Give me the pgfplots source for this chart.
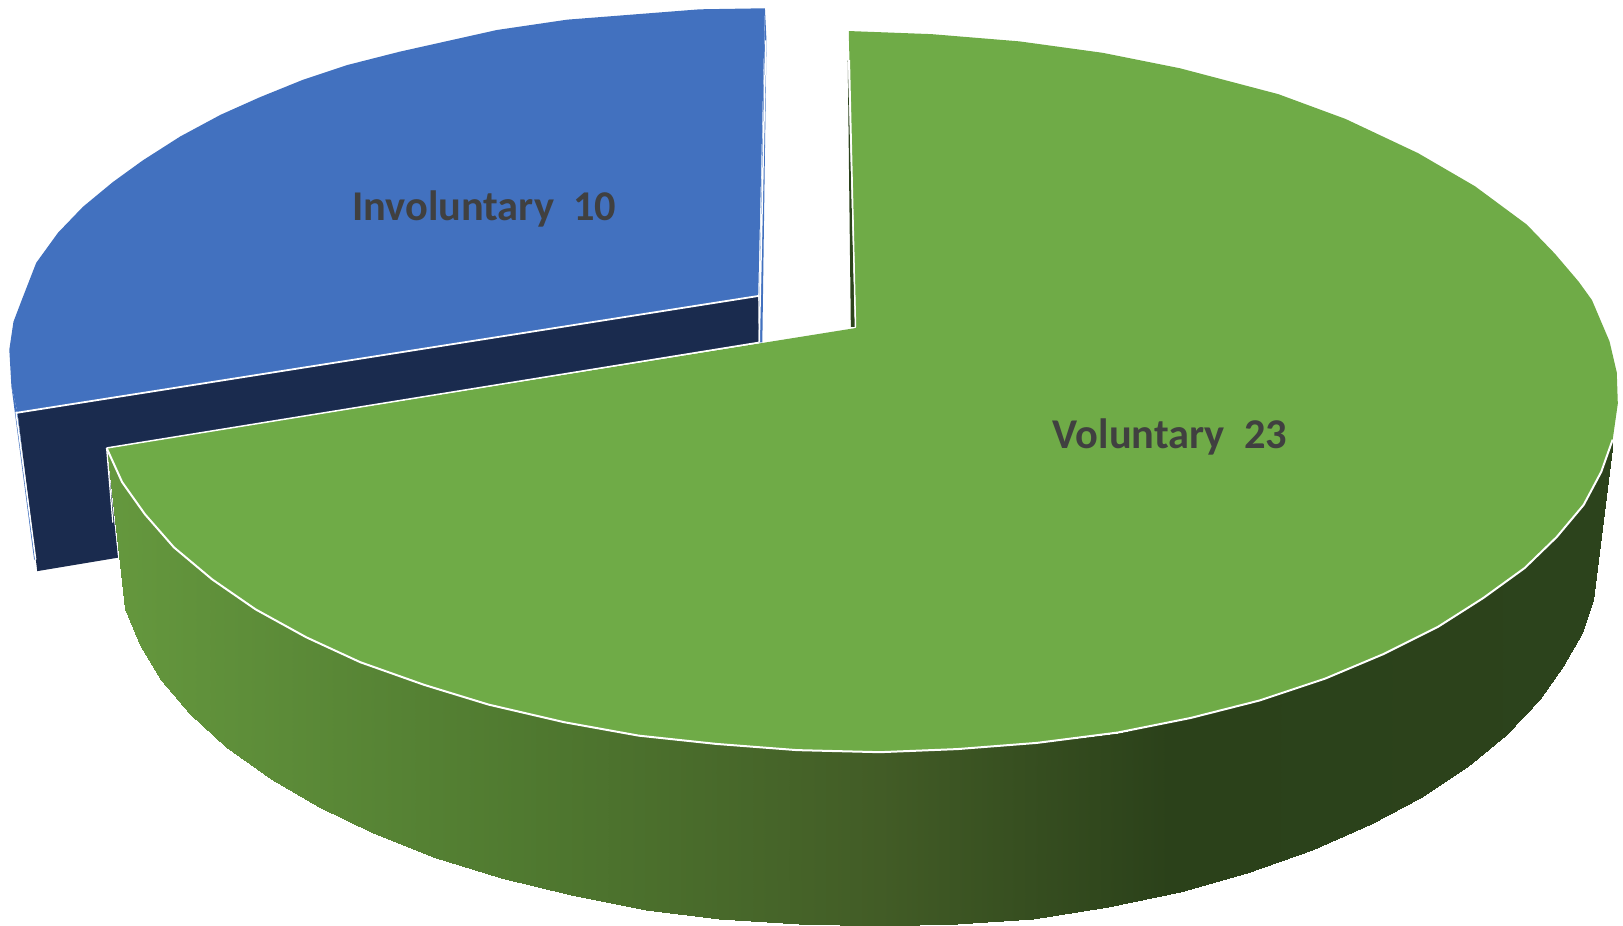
\documentclass[border=0pt]{standalone}
\usepackage{fontspec}
\setmainfont{Carlito}
\usepackage{pgfplots}
\pgfplotsset{compat=1.18}
\definecolor{gtop}{RGB}{111,171,71}
\definecolor{btop}{RGB}{66,113,191}
\definecolor{navy}{RGB}{26,43,78}
\definecolor{gdark}{RGB}{44,67,28}
\definecolor{lab}{RGB}{64,64,64}
\begin{document}
\begin{tikzpicture}
\useasboundingbox (0,0) rectangle (1623pt,926pt);
\begin{axis}[
  at={(0,0)},anchor=south west,
  width=1623pt,height=926pt,scale only axis,hide axis,
  xmin=0,xmax=1568,ymin=0,ymax=895,y dir=reverse,
  colormap={side}{rgb255(104pt)=(101,152,62); rgb255(500pt)=(80,122,48); rgb255(850pt)=(66,92,38); rgb255(1130pt)=(43,65,26); rgb255(1558pt)=(44,67,28)},
  point meta min=104,point meta max=1558,
]
% blue slice: side slivers
\addplot[fill=btop,draw=none] coordinates {(11,373)(17,399)(34,541)(33,541)} --cycle;
\addplot[fill=btop,draw=none] coordinates {(739,8)(740.5,39)(736.5,331)(733,331)} --cycle;
% navy inner face
\addplot[fill=navy,draw=none] coordinates {(17,399)(732.5,286)(733,331)(103,433)(114,539)(36,552)} --cycle;
% blue top
\addplot[fill=btop,draw=none] coordinates {
(739,8)(676,9)(612,14)(548,19)(480,29)(386,50)(335,63)(293,77)(251,94)(213,111)(174,132)(138,155)(109,176)(80,200)(56,225)(35,254)(21,290)(13,311)(9,338)(11,373)(17,399)(732.5,286)} --cycle;
\addplot[white,line width=1.8pt] coordinates {(16,399)(733,286)};
\addplot[white,line width=1.5pt] coordinates {(739.8,39)(733.5,331)};
\addplot[white,line width=1.5pt] coordinates {(15.5,398)(34.5,541)};
% green side wall
\addplot[surf,shader=interp,mesh/rows=2,point meta=x] table {
x y
103 433
118 466
140 497
168 529
205 560
247 589
296 616
348 640
410 662
472 681
545 698
617 711
692 719
770 725
850 727
925 724
1002 718
1080 708
1150 694
1217 677
1280 656
1337 632
1389 606
1433 578
1473 549
1504 519
1530 488
1547 456
1558 425
121 589
135 623
156 657
184 690
218 722
262 753
308 780
360 805
418 828
484 849
552 865
624 880
695 888
772 893
850 895
925 893
998 888
1070 877
1140 862
1205 844
1268 822
1325 796
1372 771
1417 741
1455 710
1488 676
1510 644
1528 612
1539 580
};
% dark sliver at the start of the green slice
\addplot[fill=gdark,draw=none] coordinates {(819,58)(822,316)(826,316)} --cycle;
% green top
\addplot[fill=gtop,draw=none] coordinates {
(820,30)(900,33)(985,40)(1065,51)(1140,66)(1235,91)(1300,115)(1370,148)(1425,180)(1475,217)(1502,245)(1525,272)(1538,290)(1555,330)(1562,360)(1563,390)(1558,425)
(1547,456)(1530,488)(1504,519)(1473,549)(1433,578)(1389,606)(1337,632)(1280,656)(1217,677)(1150,694)(1080,708)(1002,718)(925,724)(850,727)(770,725)(692,719)(617,711)(545,698)(472,681)(410,662)(348,640)(296,616)(247,589)(205,560)(168,529)(140,497)(118,466)(103,433)(827,317)} --cycle;
\addplot[white,line width=2pt] coordinates {
(1558,425)(1547,456)(1530,488)(1504,519)(1473,549)(1433,578)(1389,606)(1337,632)(1280,656)(1217,677)(1150,694)(1080,708)(1002,718)(925,724)(850,727)(770,725)(692,719)(617,711)(545,698)(472,681)(410,662)(348,640)(296,616)(247,589)(205,560)(168,529)(140,497)(118,466)(103,433)};
\addplot[white,line width=1.5pt] coordinates {(103,433)(733,331)};
\addplot[white,line width=1.2pt] coordinates {(103,433)(109,505)};
\addplot[white,line width=1.5pt] coordinates {(820.5,58)(826.5,316)};
\node[anchor=base west,text=lab,font=\fontsize{42.4}{42.4}\selectfont\bfseries,inner sep=0pt] at (axis cs:340,213) {Involuntary\ \ 10};
\node[anchor=base west,text=lab,font=\fontsize{42.4}{42.4}\selectfont\bfseries,inner sep=0pt] at (axis cs:1017,433) {Voluntary\ \ 23};
\end{axis}
\end{tikzpicture}
\end{document}
